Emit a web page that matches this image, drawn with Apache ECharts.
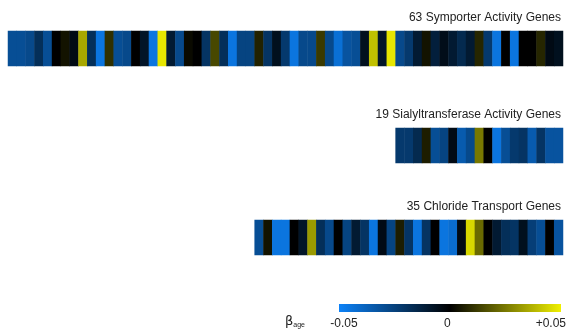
<!DOCTYPE html>
<html>
<head>
<meta charset="utf-8">
<script src="https://cdn.jsdelivr.net/npm/echarts@6/dist/echarts.min.js"></script>
<style>html,body{margin:0;padding:0;background:#fff;}#c{width:569px;height:333px;}</style>
</head>
<body>
<div id="c"></div>
<script>
// Gene set titles
const titles = ['63 Symporter Activity Genes', '19 Sialyltransferase Activity Genes', '35 Chloride Transport Genes'];
// beta_age per gene, left to right
const symporter = [-0.03,-0.03,-0.028,-0.018,-0.03,0,0.004,-0.004,0.035,-0.018,-0.045,0.01,-0.03,-0.028,0,-0.008,-0.045,0.048,-0.01,-0.028,
  0.002,0,-0.02,0.015,-0.018,-0.045,-0.026,-0.026,0.007,-0.02,-0.006,-0.022,-0.045,-0.028,-0.028,0.012,-0.028,-0.043,-0.032,-0.03,
  -0.006,0.04,-0.008,0.048,-0.028,-0.022,-0.01,0.004,-0.012,-0.005,-0.01,-0.016,-0.01,0.008,-0.022,-0.045,0,-0.045,0,0,0.008,-0.004,-0.006];
const sialyl = [-0.022,-0.022,-0.016,0.006,-0.03,-0.026,-0.004,-0.035,-0.028,0.025,0,-0.045,-0.03,-0.022,-0.02,-0.035,-0.02,-0.032,-0.032];
const chloride = [-0.03,0.004,-0.045,-0.045,0,-0.008,0.032,-0.018,-0.028,0,-0.026,-0.01,-0.02,-0.045,-0.004,-0.026,0.006,-0.02,-0.045,-0.02,
  0,-0.045,-0.042,-0.004,0.045,0.022,0,-0.01,-0.018,-0.02,-0.006,-0.024,-0.03,0,-0.032];
// colour scale
const scaleMin = -0.05, scaleMax = 0.05;
const scaleTicks = [-0.05, 0, 0.05];
const scaleLabels = ['-0.05', '0', '+0.05'];
const scaleColors = ['#0c82f8', '#000000', '#f0f000'];

const sets = [symporter, sialyl, chloride];
const cellW = 555 / 63;
const right = 6;
const tops = [31, 128, 220];
const titleTops = [12, 109, 201];

const grids = sets.map((s, i) => ({ right: right, top: tops[i], width: s.length * cellW, height: 35 }));
grids.push({ left: 344, top: 304, width: 208, height: 8 });

const xAxes = sets.map((s, i) => ({ type: 'category', gridIndex: i, data: s.map((_, j) => j), show: false }));
xAxes.push({ type: 'value', gridIndex: 3, min: scaleMin, max: scaleMax, interval: 0.05,
  axisLine: { show: false }, axisTick: { show: false }, splitLine: { show: false },
  axisLabel: { margin: 6, fontSize: 12, color: '#222', fontFamily: 'Liberation Sans',
    formatter: v => { const k = scaleTicks.findIndex(t => Math.abs(t - v) < 1e-9); return k >= 0 ? scaleLabels[k] : ''; } } });
const yAxes = sets.map((s, i) => ({ type: 'category', gridIndex: i, data: ['g'], show: false }));
yAxes.push({ type: 'value', gridIndex: 3, show: false });

const series = sets.map((s, i) => ({
  type: 'heatmap', xAxisIndex: i, yAxisIndex: i,
  data: s.map((v, j) => [j, 0, v]),
  itemStyle: { borderWidth: 0 },
  emphasis: { disabled: true },
  progressive: 0
}));

const chart = echarts.init(document.getElementById('c'), null, { renderer: 'canvas' });
chart.setOption({
  animation: false,
  backgroundColor: '#fff',
  title: titles.map((t, i) => ({ text: t, right: 8, top: titleTops[i], padding: 0,
    textStyle: { fontSize: 12, fontWeight: 'normal', color: '#222', fontFamily: 'Liberation Sans' } })),
  grid: grids,
  xAxis: xAxes,
  yAxis: yAxes,
  visualMap: {
    type: 'continuous', min: scaleMin, max: scaleMax, show: false,
    seriesIndex: [0, 1, 2],
    inRange: { color: scaleColors }
  },
  graphic: [{
    type: 'rect', shape: { x: 339, y: 304, width: 222, height: 8 },
    style: { fill: new echarts.graphic.LinearGradient(0, 0, 1, 0, scaleColors.map((c, i) => ({ offset: i / (scaleColors.length - 1), color: c }))) }
  }, {
    type: 'text', left: 285, top: 315,
    style: { text: '{a|β}{b|age}', rich: { a: { fontSize: 13, fill: '#222', fontFamily: 'DejaVu Sans' }, b: { fontSize: 7, fill: '#222', verticalAlign: 'bottom', padding: [7, 0, 0, 0] } } }
  }],
  series: series
});
</script>
</body>
</html>
